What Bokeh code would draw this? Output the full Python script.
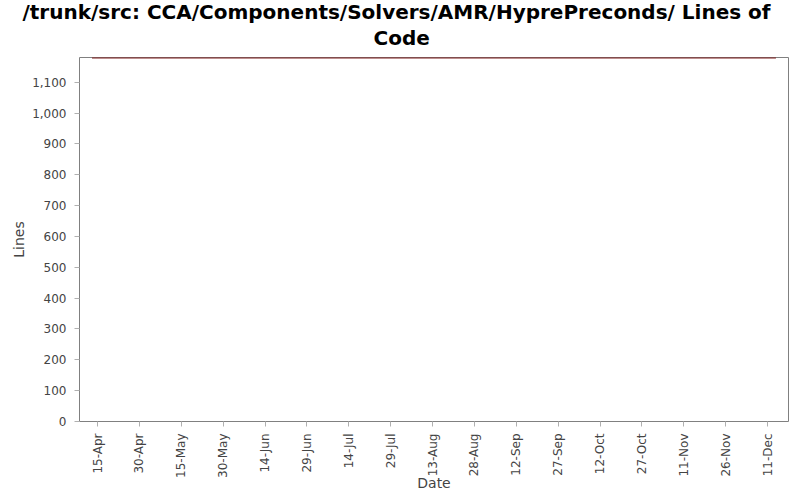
from datetime import datetime, timedelta
from bokeh.plotting import figure
from bokeh.models import Range1d, FixedTicker, NumeralTickFormatter, CustomJSTickFormatter, ColumnDataSource, Title
from bokeh.embed import file_html
from bokeh.resources import INLINE
import math

title_lines = ["/trunk/src: CCA/Components/Solvers/AMR/HyprePreconds/ Lines of", "Code"]
dates = [datetime(2008, 4, 13), datetime(2008, 12, 14)]
lines = [1179, 1179]
tick_dates = [datetime(2008, 4, 15) + timedelta(days=15 * i) for i in range(17)]
tick_labels = [f"{d.day}-{d.strftime('%b')}" for d in tick_dates]
y_ticks = list(range(0, 1200, 100))

def ms(d):
    return (d - datetime(1970, 1, 1)).total_seconds() * 1000.0

x_start = datetime(2008, 4, 8, 13)
x_end = datetime(2008, 12, 18, 12)

W, H = 800, 500
BL, BR, BT, BB = 79, 12, 57, 79

p = figure(width=W, height=H, output_backend="svg", toolbar_location=None,
           x_axis_type="datetime",
           x_range=Range1d(ms(x_start), ms(x_end)), y_range=Range1d(0, 1180),
           min_border_left=BL, min_border_right=BR, min_border_top=BT, min_border_bottom=BB)

# first added sits nearest the frame
for txt, left, so in ((title_lines[1], 373, 16), (title_lines[0], 22, -16)):
    t = Title(text=txt, align="left", offset=left - BL, standoff=so,
              text_font="DejaVu Sans", text_font_size="20px",
              text_font_style="bold", text_color="#000000")
    p.add_layout(t, "above")

src = ColumnDataSource(dict(x=dates, y=lines))
p.line("x", "y", source=src, line_color="#7f1d1d", line_width=1.5)

p.background_fill_color = "white"
p.border_fill_color = "white"
p.outline_line_color = "#808080"
p.outline_line_width = 1
p.grid.visible = False

tick_ms = [ms(d) for d in tick_dates]
p.xaxis.ticker = FixedTicker(ticks=tick_ms)
p.xaxis.formatter = CustomJSTickFormatter(args=dict(tks=tick_ms, lbls=tick_labels), code="""
let best = 0, bd = Infinity;
for (let i = 0; i < tks.length; i++) {
  const d = Math.abs(tks[i] - tick);
  if (d < bd) { bd = d; best = i; }
}
return lbls[best];
""")
p.xaxis.major_label_orientation = math.pi / 2
p.yaxis.ticker = FixedTicker(ticks=y_ticks)
p.yaxis.formatter = NumeralTickFormatter(format="0,0")

for ax in (p.xaxis[0], p.yaxis[0]):
    ax.axis_line_color = None
    ax.major_tick_line_color = "#b0b0b0"
    ax.major_tick_in = 0
    ax.major_tick_out = 5
    ax.minor_tick_line_color = None
    ax.major_label_text_font = "DejaVu Sans"
    ax.major_label_text_font_size = "12px"
    ax.major_label_text_color = "#444444"
    ax.axis_label_text_font = "DejaVu Sans"
    ax.axis_label_text_font_size = "14px"
    ax.axis_label_text_font_style = "normal"
    ax.axis_label_text_color = "#444444"

p.xaxis.axis_label = "Date"
p.yaxis.axis_label = "Lines"
p.xaxis.major_label_standoff = 7
p.yaxis.major_label_standoff = 8
p.xaxis.axis_label_standoff = -6
p.yaxis.axis_label_standoff = 2

open("out.html", "w").write(file_html(p, INLINE))
